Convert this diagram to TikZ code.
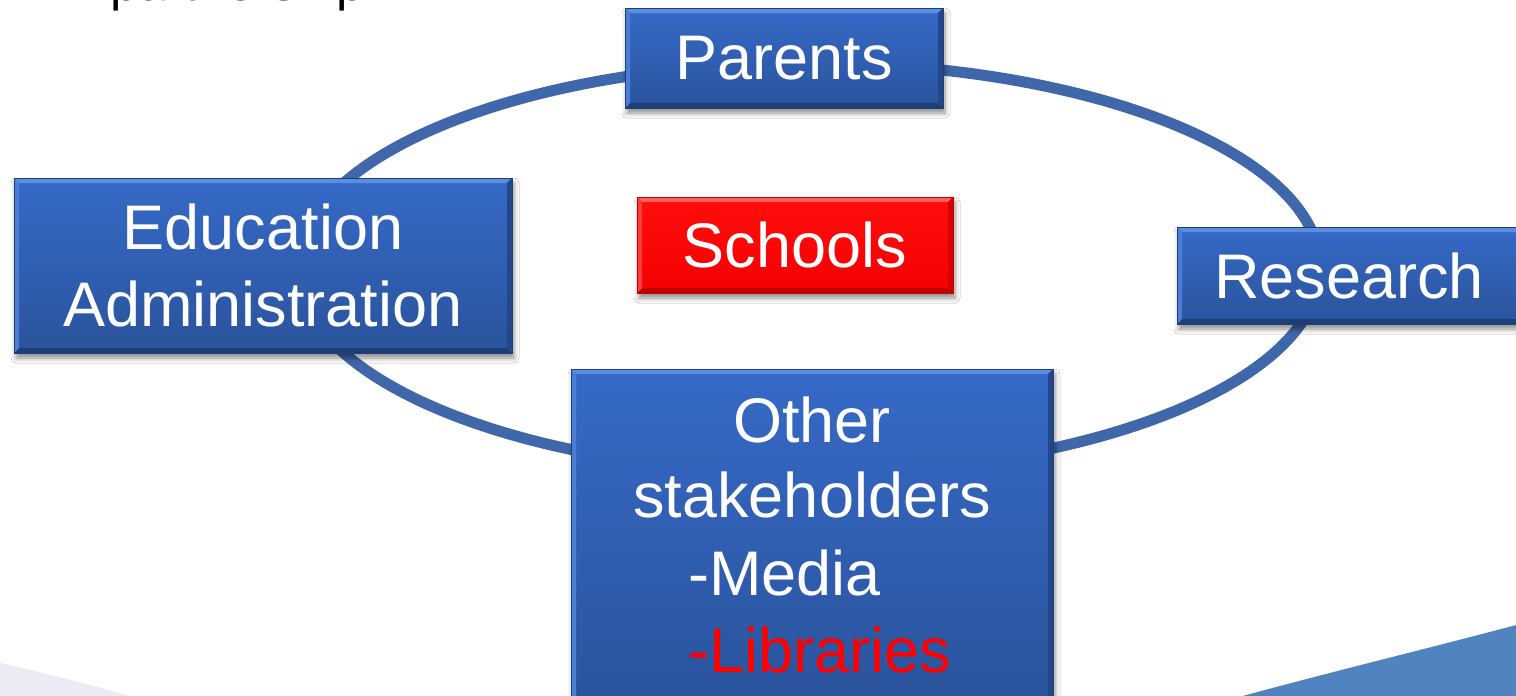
\documentclass[tikz,border=0pt]{standalone}
\usepackage{fontspec}
\setmainfont{Liberation Sans}
\usetikzlibrary{shadows.blur}
\definecolor{ringcol}{RGB}{63,103,170}
\definecolor{btop}{RGB}{54,106,200}
\definecolor{bbot}{RGB}{42,83,155}
\definecolor{bhi}{RGB}{90,142,224}
\definecolor{blo}{RGB}{30,62,120}
\definecolor{rtop}{RGB}{255,14,14}
\definecolor{rbot}{RGB}{245,0,0}
\definecolor{rhi}{RGB}{255,95,95}
\definecolor{rlo}{RGB}{190,0,0}
\definecolor{swblue}{RGB}{80,131,191}
\definecolor{swgray}{RGB}{234,235,245}
\newcommand\bxfont{\fontsize{63}{77}\selectfont}
\tikzset{
  bevel/.style n args={4}{path picture={
    \path (path picture bounding box.north west) coordinate (pNW)
          (path picture bounding box.north east) coordinate (pNE)
          (path picture bounding box.south west) coordinate (pSW)
          (path picture bounding box.south east) coordinate (pSE);
    \fill[#1] (pNW) -- (pNE) -- ([shift={(-5,5)}]pNE) -- ([shift={(5,5)}]pNW) -- cycle;
    \fill[#2] (pSW) -- (pSE) -- ([shift={(-5,-5)}]pSE) -- ([shift={(5,-5)}]pSW) -- cycle;
    \fill[#3] (pNW) -- (pSW) -- ([shift={(5,-5)}]pSW) -- ([shift={(5,5)}]pNW) -- cycle;
    \fill[#4] (pNE) -- (pSE) -- ([shift={(-5,-5)}]pSE) -- ([shift={(-5,5)}]pNE) -- cycle;
  }},
  boxshadow/.style={blur shadow={shadow xshift=2pt, shadow yshift=-5pt,
      shadow blur radius=5pt, shadow opacity=45}},
  bluebox/.style={rectangle, inner sep=0pt, top color=btop, bottom color=bbot,
      draw=blo, line width=0.8pt, text=white, font=\bxfont, align=center,
      bevel={bhi}{blo}{bhi!55!btop}{blo!55!bbot}, boxshadow},
  redbox/.style={rectangle, inner sep=0pt, top color=rtop, bottom color=rbot,
      draw=rlo, line width=0.8pt, text=white, font=\bxfont, align=center,
      bevel={rhi}{rlo}{rhi!55!rtop}{rlo!55!rbot}, boxshadow},
  lbl/.style={inner sep=0pt, text=white, font=\bxfont},
  ring/.style={draw=ringcol, line width=11pt}
}
\begin{document}
\begin{tikzpicture}[x=1pt,y=-1pt]
  \useasboundingbox (0,0) rectangle (1516,696);
  \clip (0,0) rectangle (1516,696);
  \fill[white] (0,0) rectangle (1516,696);
  % background swooshes
  \fill[swblue] (1228,700) .. controls (1330,672) and (1430,648) .. (1520,624) -- (1520,700) -- cycle;
  \fill[swgray] (-4,662) .. controls (40,672) and (90,684) .. (142,700) -- (-4,700) -- cycle;
  % cut-off heading
  \node[inner sep=0pt, anchor=base west, font=\fontsize{51}{60}\selectfont, text=black] (title) at (110,1) {partnership};
  % ring
  \draw[ring] (809,268) ellipse [x radius=511, y radius=205];
  % boxes
  \node[bluebox, minimum width=318, minimum height=100] (parents) at (784,58) {Parents};
  \node[bluebox, minimum width=498, minimum height=175] (edu) at (263,265.5) {Education\\Administration};
  \node[redbox, minimum width=316, minimum height=96] (schools) at (795,245) {Schools};
  \node[bluebox, minimum width=344, minimum height=97] (research) at (1349,275.5) {Research};
  \node[bluebox, minimum width=482, minimum height=336] (other) at (812,537) {};
  \node[lbl, anchor=base] (oth1) at (812,442) {Other};
  \node[lbl, anchor=base] (oth2) at (812,517) {stakeholders};
  \node[lbl, anchor=base west] (oth3) at (688,595) {-Media};
  \node[lbl, anchor=base west, text=red] (oth4) at (688,672) {-Libraries};
\end{tikzpicture}
\end{document}
